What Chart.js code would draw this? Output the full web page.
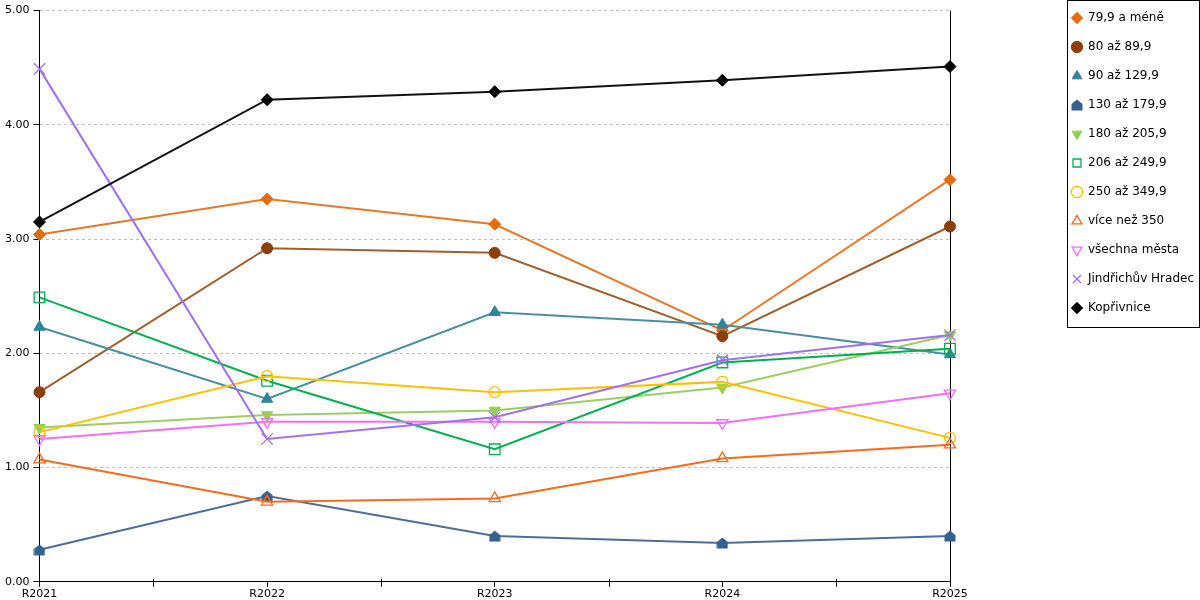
<!DOCTYPE html>
<html>
<head>
<meta charset="utf-8">
<script src="https://cdn.jsdelivr.net/npm/chart.js@4/dist/chart.umd.min.js"></script>
<style>
  html, body { margin: 0; padding: 0; background: #fff; }
  #wrap { width: 1200px; height: 600px; }
</style>
</head>
<body>
<div id="wrap"><canvas id="chart"></canvas></div>
<script>
// Kategorie a hodnoty
const years = ["R2021", "R2022", "R2023", "R2024", "R2025"];
const seriesNames = [
  "79,9 a méně", "80 až 89,9", "90 až 129,9", "130 až 179,9", "180 až 205,9",
  "206 až 249,9", "250 až 349,9", "více než 350", "všechna města",
  "Jindřichův Hradec", "Kopřivnice"
];
const s79 = [3.04, 3.35, 3.13, 2.20, 3.52];
const s80 = [1.66, 2.92, 2.88, 2.15, 3.11];
const s90 = [2.23, 1.60, 2.36, 2.25, 1.99];
const s130 = [0.28, 0.75, 0.40, 0.34, 0.40];
const s180 = [1.35, 1.46, 1.50, 1.70, 2.16];
const s206 = [2.49, 1.76, 1.16, 1.92, 2.04];
const s250 = [1.31, 1.80, 1.66, 1.75, 1.26];
const s350 = [1.07, 0.70, 0.73, 1.08, 1.20];
const sAll = [1.25, 1.40, 1.40, 1.39, 1.65];
const sJH = [4.49, 1.25, 1.44, 1.94, 2.16];
const sKop = [3.15, 4.22, 4.29, 4.39, 4.51];
const allSeries = [s79, s80, s90, s130, s180, s206, s250, s350, sAll, sJH, sKop];

// Marker "domeček" pro 130 až 179,9
function houseMarker(color) {
  const c = document.createElement("canvas");
  c.width = 12; c.height = 12;
  const g = c.getContext("2d");
  g.fillStyle = color;
  g.beginPath();
  g.moveTo(6, 0.5);
  g.lineTo(11.5, 5);
  g.lineTo(11.5, 11.5);
  g.lineTo(0.5, 11.5);
  g.lineTo(0.5, 5);
  g.closePath();
  g.fill();
  return c;
}

// styl: [barva čáry, barva značky, tvar, rotace, plná, poloměr]
const styles = [
  ["#e8772a", "#e46c0a", "rectRot", 0, true, 6],
  ["#a0602e", "#8b3f0b", "circle", 0, true, 5.5],
  ["#4b8ea3", "#31849b", "triangle", 0, true, 6.5],
  ["#4f6e96", "#376092", houseMarker("#376092"), 0, true, 6],
  ["#9ccf62", "#92d050", "triangle", 180, true, 6.5],
  ["#00b050", "#00b050", "rect", 0, false, 7.5],
  ["#ffc000", "#ffc000", "circle", 0, false, 5.5],
  ["#f96b1b", "#f96b1b", "triangle", 0, false, 6.5],
  ["#f56ef5", "#f56ef5", "triangle", 180, false, 6.5],
  ["#a070f0", "#a070f0", "crossRot", 0, false, 8],
  ["#111111", "#000000", "rectRot", 0, true, 6]
];

const datasets = seriesNames.map((name, i) => {
  const [line, mark, shape, rot, filled, r] = styles[i];
  return {
    label: name,
    data: allSeries[i],
    borderColor: line,
    backgroundColor: filled ? mark : "rgba(0,0,0,0)",
    borderWidth: 2,
    pointStyle: shape,
    rotation: rot,
    pointRadius: r,
    pointHoverRadius: r,
    pointBackgroundColor: filled ? mark : "rgba(0,0,0,0)",
    pointBorderColor: mark,
    pointBorderWidth: filled ? 1 : 1.3,
    tension: 0,
    clip: false,
    order: seriesNames.length - i
  };
});

const LEGEND_SPACE = 250;

// legenda vpravo s mezerou a rámečkem
const legendFrame = {
  id: "legendFrame",
  beforeLayout(chart) {
    const lg = chart.legend;
    if (lg && !lg._patched) {
      const fit = lg.fit;
      lg.fit = function () { fit.call(this); this.width = LEGEND_SPACE; };
      lg._patched = true;
    }
  },
  afterLayout(chart) {
    const lg = chart.legend;
    lg.left = chart.width - 145;
    lg.top = -5;
  },
  afterDraw(chart) {
    const hb = chart.legend.legendHitBoxes;
    if (!hb || !hb.length) return;
    const first = hb[0], last = hb[hb.length - 1];
    const ctx = chart.ctx;
    const l = Math.round(first.left) - 4.5;
    const b = Math.round(last.top + last.height) + 13.5;
    ctx.save();
    ctx.strokeStyle = "#000";
    ctx.lineWidth = 1;
    ctx.strokeRect(l, 0.5, chart.width - 0.5 - l, b - 0.5);
    ctx.restore();
  }
};

// malé značky mezi kategoriemi na ose x
const midTicks = {
  id: "midTicks",
  afterDraw(chart) {
    const xs = chart.scales.x;
    const yb = chart.chartArea.bottom;
    const ctx = chart.ctx;
    ctx.save();
    ctx.strokeStyle = "#000";
    ctx.lineWidth = 1;
    for (let i = 0; i < xs.ticks.length - 1; i++) {
      const px = Math.round((xs.getPixelForTick(i) + xs.getPixelForTick(i + 1)) / 2) + 0.5;
      ctx.beginPath();
      ctx.moveTo(px, yb - 3);
      ctx.lineTo(px, yb + 5);
      ctx.stroke();
    }
    ctx.restore();
  }
};

Chart.defaults.font.family = "'DejaVu Sans', Verdana, sans-serif";
Chart.defaults.font.size = 11;
Chart.defaults.color = "#000";

new Chart(document.getElementById("chart"), {
  type: "line",
  data: { labels: years, datasets: datasets },
  plugins: [legendFrame, midTicks],
  options: {
    responsive: true,
    maintainAspectRatio: false,
    animation: false,
    layout: { padding: { left: 1, top: 10, right: 0, bottom: -2 } },
    plugins: {
      tooltip: { enabled: false },
      legend: {
        position: "right",
        align: "start",
        labels: {
          usePointStyle: true,
          boxWidth: 10,
          boxHeight: 8,
          padding: 17,
          color: "#000",
          font: { size: 12 },
          sort: (a, b) => a.datasetIndex - b.datasetIndex
        }
      }
    },
    scales: {
      x: {
        offset: false,
        grid: {
          drawOnChartArea: true,
          color: (c) => (c.index === years.length - 1 ? "#000" : "rgba(0,0,0,0)"),
          tickColor: "#000",
          tickLength: 5
        },
        border: { color: "#000" },
        ticks: { padding: 1, maxRotation: 0, color: "#000" }
      },
      y: {
        min: 0,
        max: 5,
        grid: {
          color: (c) => (c.tick && c.tick.value === 0 ? "rgba(0,0,0,0)" : "#c0c0c0"),
          tickColor: "#000",
          tickLength: 6
        },
        border: { color: "#000", dash: [3, 3] },
        ticks: {
          stepSize: 1,
          padding: 4,
          color: "#000",
          callback: (v) => Number(v).toFixed(2)
        }
      }
    }
  }
});
</script>
</body>
</html>
